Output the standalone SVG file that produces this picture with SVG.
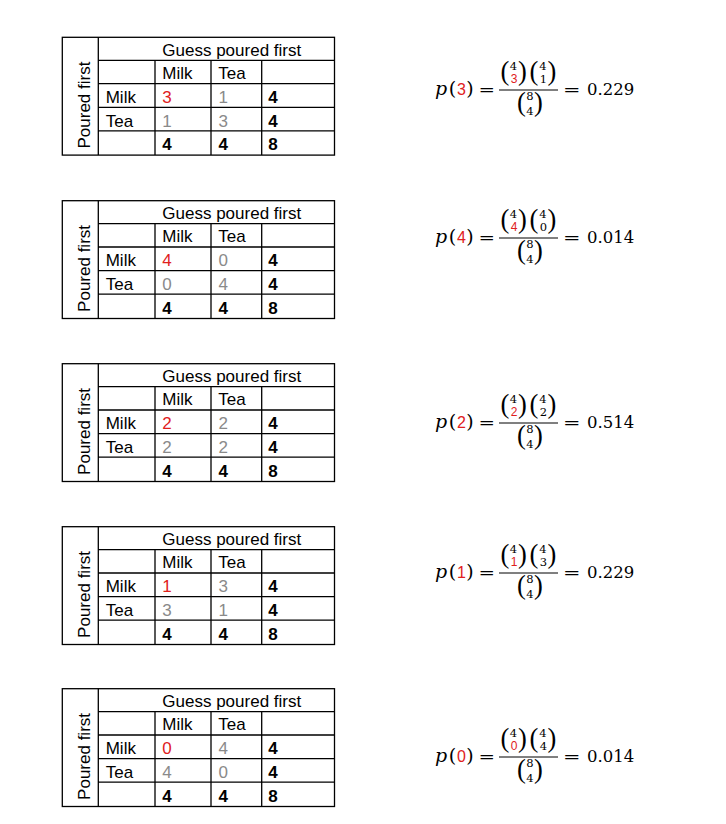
<svg xmlns="http://www.w3.org/2000/svg" xmlns:xlink="http://www.w3.org/1999/xlink" width="726" height="824" viewBox="0 0 726 824">
<style>
.grid{fill:none;stroke:#000;stroke-width:1.3}
.t{font-family:"Liberation Sans",Arial,sans-serif;font-size:17px;fill:#000}
.b{font-weight:bold}
.r{fill:#e0201c}
.g{fill:#8a8a8a}
.m{font-family:"DejaVu Serif",serif;font-size:16.5px;fill:#000}
.mi{font-style:italic;font-size:19px}
.mp{font-family:"DejaVu Serif",serif;font-size:19px;fill:#000;text-anchor:middle}
.rd{font-family:"Liberation Sans",Arial,sans-serif;font-size:16px;fill:#e0201c;text-anchor:middle}
.s{font-family:"DejaVu Serif",serif;font-size:11.5px;fill:#000;text-anchor:middle}
.sr{font-family:"Liberation Sans",Arial,sans-serif;font-size:12px;fill:#e0201c;text-anchor:middle}
.bp{font-family:"Liberation Serif","Times New Roman",serif;font-size:26.5px;fill:#000;text-anchor:middle}
.bar{stroke:#000;stroke-width:1}
</style>
<defs>
<g id="grid">
<rect class="grid" x="62.3" y="0" width="272.2" height="117.8"/>
<path class="grid" d="M98.3 0V117.8M98.3 23H334.5M98.3 46.3H334.5M98.3 70H334.5M98.3 93.5H334.5M155 23V117.8M211 23V117.8M261.7 23V117.8"/>
<text class="t" x="162.3" y="18.7">Guess poured first</text>
<text class="t" x="162.3" y="41.3">Milk</text>
<text class="t" x="218.3" y="41.3">Tea</text>
<text class="t" x="105.7" y="65.8">Milk</text>
<text class="t" x="105.7" y="89.3">Tea</text>
<text class="t b" x="268.3" y="65.8">4</text>
<text class="t b" x="268.3" y="89.3">4</text>
<text class="t b" x="162.3" y="113">4</text>
<text class="t b" x="218.5" y="113">4</text>
<text class="t b" x="268.3" y="113">8</text>
<text class="t" transform="translate(89.5,111.2) rotate(-90)">Poured first</text>
</g>
<g id="frac">
<text class="m mi" x="435" y="0">p</text>
<text class="mp" x="452.5" y="0">(</text>
<text class="mp" x="470" y="0">)</text>
<text class="m" x="478.5" y="0" textLength="16.5" lengthAdjust="spacingAndGlyphs">=</text>
<line class="bar" x1="499" y1="-5" x2="558" y2="-5"/>
<text class="bp" x="505" y="-15.4">(</text>
<text class="bp" x="522.5" y="-15.4">)</text>
<text class="s" x="513.5" y="-24.7">4</text>
<text class="bp" x="534" y="-15.4">(</text>
<text class="bp" x="552" y="-15.4">)</text>
<text class="s" x="543" y="-24.7">4</text>
<text class="bp" x="521.5" y="15.6">(</text>
<text class="bp" x="538.5" y="15.6">)</text>
<text class="s" x="530" y="5.3">8</text>
<text class="s" x="530" y="20.3">4</text>
<text class="m" x="563" y="0" textLength="17.5" lengthAdjust="spacingAndGlyphs">=</text>
</g>
</defs>
<rect width="726" height="824" fill="#fff"/>

<g id="table1" transform="translate(0,37.3)">
<use xlink:href="#grid"/>
<text class="t r" x="162.3" y="65.8">3</text>
<text class="t g" x="218.5" y="65.8">1</text>
<text class="t g" x="162.3" y="89.3">1</text>
<text class="t g" x="218.5" y="89.3">3</text>
</g>
<g id="table2" transform="translate(0,200.7)">
<use xlink:href="#grid"/>
<text class="t r" x="162.3" y="65.8">4</text>
<text class="t g" x="218.5" y="65.8">0</text>
<text class="t g" x="162.3" y="89.3">0</text>
<text class="t g" x="218.5" y="89.3">4</text>
</g>
<g id="table3" transform="translate(0,363.7)">
<use xlink:href="#grid"/>
<text class="t r" x="162.3" y="65.8">2</text>
<text class="t g" x="218.5" y="65.8">2</text>
<text class="t g" x="162.3" y="89.3">2</text>
<text class="t g" x="218.5" y="89.3">2</text>
</g>
<g id="table4" transform="translate(0,526.7)">
<use xlink:href="#grid"/>
<text class="t r" x="162.3" y="65.8">1</text>
<text class="t g" x="218.5" y="65.8">3</text>
<text class="t g" x="162.3" y="89.3">3</text>
<text class="t g" x="218.5" y="89.3">1</text>
</g>
<g id="table5" transform="translate(0,688.7)">
<use xlink:href="#grid"/>
<text class="t r" x="162.3" y="65.8">0</text>
<text class="t g" x="218.5" y="65.8">4</text>
<text class="t g" x="162.3" y="89.3">4</text>
<text class="t g" x="218.5" y="89.3">0</text>
</g>

<g id="formula1" transform="translate(0,95)">
<use xlink:href="#frac"/>
<text class="rd" x="461.5" y="0">3</text>
<text class="sr" x="514" y="-11.7">3</text>
<text class="s" x="543.5" y="-11.7">1</text>
<text class="m" x="587" y="0">0.229</text>
</g>
<g id="formula2" transform="translate(0,243)">
<use xlink:href="#frac"/>
<text class="rd" x="461.5" y="0">4</text>
<text class="sr" x="514" y="-11.7">4</text>
<text class="s" x="543.5" y="-11.7">0</text>
<text class="m" x="587" y="0">0.014</text>
</g>
<g id="formula3" transform="translate(0,428)">
<use xlink:href="#frac"/>
<text class="rd" x="461.5" y="0">2</text>
<text class="sr" x="514" y="-11.7">2</text>
<text class="s" x="543.5" y="-11.7">2</text>
<text class="m" x="587" y="0">0.514</text>
</g>
<g id="formula4" transform="translate(0,578)">
<use xlink:href="#frac"/>
<text class="rd" x="461.5" y="0">1</text>
<text class="sr" x="514" y="-11.7">1</text>
<text class="s" x="543.5" y="-11.7">3</text>
<text class="m" x="587" y="0">0.229</text>
</g>
<g id="formula5" transform="translate(0,762)">
<use xlink:href="#frac"/>
<text class="rd" x="461.5" y="0">0</text>
<text class="sr" x="514" y="-11.7">0</text>
<text class="s" x="543.5" y="-11.7">4</text>
<text class="m" x="587" y="0">0.014</text>
</g>
</svg>
